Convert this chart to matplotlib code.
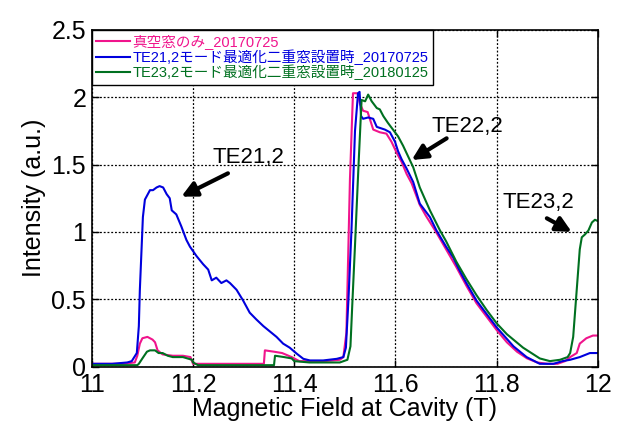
import matplotlib
matplotlib.use("Agg")
import matplotlib.pyplot as plt
from matplotlib.ticker import MultipleLocator, FormatStrFormatter

plt.rcParams['font.family'] = ['Liberation Sans', 'Noto Sans CJK JP', 'DejaVu Sans']

labels = ["真空窓のみ_20170725",
          "TE21,2モード最適化二重窓設置時_20170725",
          "TE23,2モード最適化二重窓設置時_20180125"]
colors = ["#F0148C", "#0000DD", "#007020"]

pink_x = [11.00, 11.03, 11.06, 11.085, 11.09, 11.095, 11.10, 11.11, 11.12, 11.125, 11.13, 11.14,
          11.16, 11.18, 11.195, 11.20, 11.25, 11.30, 11.34, 11.342, 11.36, 11.376, 11.395, 11.41,
          11.43, 11.46, 11.49, 11.497, 11.503, 11.51, 11.516, 11.525, 11.53, 11.536, 11.545, 11.556,
          11.569, 11.582, 11.592, 11.602, 11.612, 11.622, 11.632, 11.648, 11.66, 11.68, 11.70, 11.72,
          11.74, 11.76, 11.78, 11.80, 11.82, 11.84, 11.86, 11.88, 11.90, 11.92, 11.935, 11.945,
          11.958, 11.964, 11.977, 11.99, 12.0]
pink_y = [0.02, 0.02, 0.02, 0.03, 0.08, 0.17, 0.21, 0.22, 0.20, 0.18, 0.12, 0.09,
          0.08, 0.08, 0.07, 0.02, 0.02, 0.02, 0.02, 0.12, 0.11, 0.10, 0.07, 0.04,
          0.04, 0.04, 0.05, 0.07, 0.25, 1.39, 2.03, 2.03, 1.95, 1.90, 1.89, 1.76,
          1.74, 1.73, 1.67, 1.59, 1.52, 1.43, 1.36, 1.20, 1.12, 1.00, 0.87, 0.74,
          0.60, 0.47, 0.37, 0.27, 0.18, 0.11, 0.06, 0.03, 0.02, 0.02, 0.04, 0.07,
          0.10, 0.17, 0.21, 0.23, 0.23]

blue_x = [11.00, 11.04, 11.07, 11.079, 11.089, 11.093, 11.095, 11.101, 11.105, 11.115, 11.121,
          11.128, 11.134, 11.141, 11.148, 11.154, 11.158, 11.167, 11.177, 11.187, 11.194, 11.207,
          11.22, 11.23, 11.237, 11.246, 11.256, 11.266, 11.273, 11.286, 11.299, 11.312, 11.325,
          11.339, 11.352, 11.365, 11.378, 11.391, 11.405, 11.418, 11.431, 11.457, 11.484, 11.497,
          11.502, 11.507, 11.513, 11.52, 11.526, 11.529, 11.532, 11.536, 11.546, 11.556, 11.563,
          11.579, 11.589, 11.599, 11.605, 11.612, 11.622, 11.635, 11.648, 11.668, 11.681, 11.70,
          11.714, 11.727, 11.74, 11.76, 11.78, 11.80, 11.833, 11.859, 11.885, 11.912, 11.93,
          11.945, 11.964, 11.984, 12.0]
blue_y = [0.02, 0.02, 0.03, 0.04, 0.10, 0.30, 0.57, 1.11, 1.24, 1.31, 1.31,
          1.33, 1.34, 1.33, 1.28, 1.25, 1.16, 1.13, 1.04, 0.94, 0.89, 0.82,
          0.76, 0.72, 0.64, 0.66, 0.62, 0.64, 0.62, 0.57, 0.49, 0.40, 0.35,
          0.30, 0.26, 0.22, 0.17, 0.14, 0.095, 0.057, 0.045, 0.045, 0.057, 0.07,
          0.14, 0.49, 1.01, 1.75, 2.03, 2.04, 1.86, 1.84, 1.85, 1.84, 1.78,
          1.76, 1.74, 1.67, 1.60, 1.54, 1.47, 1.37, 1.21, 1.11, 1.01, 0.89,
          0.81, 0.71, 0.62, 0.49, 0.39, 0.29, 0.15, 0.07, 0.02, 0.02, 0.04,
          0.05, 0.07, 0.10, 0.10]

green_x = [11.00, 11.05, 11.09, 11.093, 11.10, 11.109, 11.115, 11.125, 11.132, 11.14, 11.15,
           11.16, 11.18, 11.198, 11.20, 11.21, 11.25, 11.30, 11.36, 11.362, 11.38, 11.395,
           11.40, 11.43, 11.46, 11.49, 11.505, 11.511, 11.515, 11.52, 11.527, 11.533, 11.54,
           11.546, 11.553, 11.563, 11.569, 11.576, 11.585, 11.595, 11.605, 11.615, 11.625,
           11.635, 11.648, 11.668, 11.688, 11.70, 11.72, 11.74, 11.76, 11.78, 11.80, 11.82,
           11.852, 11.885, 11.905, 11.925, 11.94, 11.945, 11.951, 11.958, 11.964, 11.968,
           11.974, 11.981, 11.988, 11.994, 12.0]
green_y = [0.01, 0.01, 0.01, 0.02, 0.06, 0.11, 0.12, 0.12, 0.10, 0.10, 0.08,
           0.07, 0.07, 0.05, 0.03, 0.01, 0.01, 0.01, 0.01, 0.08, 0.07, 0.06,
           0.04, 0.03, 0.03, 0.03, 0.05, 0.15, 0.49, 0.90, 1.50, 1.98, 1.97,
           2.02, 1.97, 1.92, 1.91, 1.86, 1.81, 1.76, 1.71, 1.64, 1.56,
           1.48, 1.33, 1.16, 1.01, 0.93, 0.78, 0.65, 0.53, 0.42, 0.32, 0.24,
           0.14, 0.06, 0.04, 0.05, 0.07, 0.10, 0.22, 0.57, 0.87, 0.96,
           0.98, 1.01, 1.07, 1.09, 1.08]

annot_text = ["TE21,2", "TE22,2", "TE23,2"]
annot_text_xy = [(11.31, 1.55), (11.742, 1.78), (11.882, 1.22)]
annot_tail_xy = [(11.269, 1.435), (11.701, 1.695), (11.899, 1.101)]
annot_tip_xy = [(11.177, 1.262), (11.632, 1.534), (11.948, 1.0)]

fig = plt.figure(figsize=(6.2, 4.22), dpi=100)
ax = fig.add_axes([0.148, 0.1315, 0.8165, 0.7975])

series = [(pink_x, pink_y), (blue_x, blue_y), (green_x, green_y)]
for (xs, ys), c, lab in zip(series, colors, labels):
    ax.plot(xs, ys, color=c, lw=1.5, label=lab)

ax.set_xlim(11, 12)
ax.set_ylim(0, 2.5)
ax.xaxis.set_major_locator(MultipleLocator(0.2))
ax.yaxis.set_major_locator(MultipleLocator(0.5))
ax.xaxis.set_major_formatter(FormatStrFormatter('%g'))
ax.yaxis.set_major_formatter(FormatStrFormatter('%g'))
ax.tick_params(direction='in', length=5, width=1, labelsize=18, top=True, right=True)
ax.tick_params(axis='x', pad=5)
ax.tick_params(axis='y', pad=4)
ax.grid(True, color='black', linestyle=(0, (1.5, 1.5)), linewidth=0.9)
for s in ax.spines.values():
    s.set_linewidth(1.2)

ax.set_xlabel("Magnetic Field at Cavity (T)", fontsize=18, labelpad=0)
ax.set_ylabel("Intensity (a.u.)", fontsize=18, labelpad=4)

for txt, pos, tail, tip in zip(annot_text, annot_text_xy, annot_tail_xy, annot_tip_xy):
    ax.text(pos[0], pos[1], txt, fontsize=16, ha='center', va='center')
    ax.annotate('', xy=tip, xytext=tail,
                arrowprops=dict(arrowstyle='-|>,head_length=0.9,head_width=0.45',
                                color='black', lw=3, shrinkA=0, shrinkB=0))

leg = ax.legend(loc='upper left', bbox_to_anchor=(0, 1), borderaxespad=0, fontsize=10.5,
                frameon=True, fancybox=False, edgecolor='black', framealpha=1,
                handlelength=2.3, handletextpad=0.2, labelspacing=0.0, borderpad=0.3)
leg.get_frame().set_linewidth(1.0)
for t, c in zip(leg.get_texts(), colors):
    t.set_color(c)

fig.savefig("out.png", dpi=100)
